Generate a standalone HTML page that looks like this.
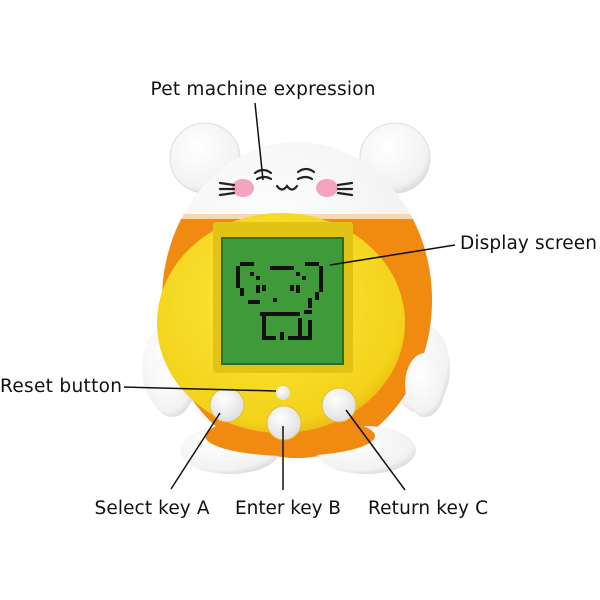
<!DOCTYPE html>
<html><head><style>
body{margin:0;background:#fff;width:600px;height:600px;overflow:hidden}
svg{display:block}
text{font-family:"DejaVu Sans","Liberation Sans",sans-serif;font-size:18.5px;fill:#111}
</style></head><body>
<svg width="600" height="600" viewBox="0 0 600 600">
<defs>
<radialGradient id="w" cx="0.4" cy="0.35" r="0.7"><stop offset="0" stop-color="#fff"/><stop offset="0.8" stop-color="#f2f2f2"/><stop offset="1" stop-color="#d8d8d8"/></radialGradient>
<radialGradient id="y" cx="0.45" cy="0.4" r="0.65"><stop offset="0" stop-color="#fbea3c"/><stop offset="0.85" stop-color="#f3d21a"/><stop offset="1" stop-color="#e8b010"/></radialGradient>
<radialGradient id="b" cx="0.4" cy="0.35" r="0.7"><stop offset="0" stop-color="#fff"/><stop offset="1" stop-color="#ddd"/></radialGradient>
<clipPath id="bodyclip"><ellipse cx="297" cy="300" rx="135" ry="158"/></clipPath>
</defs>
<circle cx="205" cy="158" r="35" fill="url(#w)" stroke="#ddd"/>
<circle cx="395" cy="158" r="35" fill="url(#w)" stroke="#ddd"/>
<ellipse cx="172" cy="368" rx="30" ry="45" fill="url(#w)"/>
<ellipse cx="420" cy="368" rx="30" ry="45" fill="url(#w)"/>
<ellipse cx="297" cy="300" rx="135" ry="158" fill="url(#w)"/>
<g clip-path="url(#bodyclip)">
<rect x="150" y="218" width="300" height="250" fill="#f08a10"/>
<rect x="150" y="214" width="300" height="5" fill="#f6d9b0"/>
</g>
<ellipse cx="230" cy="450" rx="50" ry="24" fill="url(#w)"/>
<ellipse cx="366" cy="450" rx="50" ry="24" fill="url(#w)"/>
<ellipse cx="290" cy="436" rx="85" ry="20" fill="#f08a10"/>
<ellipse cx="172" cy="385" rx="22" ry="32" fill="url(#w)"/>
<ellipse cx="425" cy="385" rx="20" ry="32" fill="url(#w)"/>
<ellipse cx="243" cy="188" rx="11" ry="9" fill="#f5a4c0"/>
<ellipse cx="327" cy="188" rx="11" ry="9" fill="#f5a4c0"/>
<g stroke="#222" stroke-width="2.2" fill="none" stroke-linecap="round">
<path d="M255 173 q8-6 16 0"/><path d="M257 179 q8-4 14 0"/>
<path d="M298 172 q8-6 16 0"/><path d="M298 179 q8-4 14 0"/>
<path d="M277 186 q5 7 10 0 q5 7 10 0"/>
<path d="M220 183 l14 2"/><path d="M220 189 l14 0"/><path d="M220 195 l14 -2"/>
<path d="M338 185 l14 -2"/><path d="M338 189 l14 0"/><path d="M338 193 l14 2"/>
</g>
<ellipse cx="281" cy="323" rx="124" ry="110" fill="url(#y)"/>
<rect x="213" y="222" width="140" height="151" rx="3" fill="#e2c214"/>
<rect x="222" y="238" width="121" height="126" fill="#3f9a3a"/>
<rect x="222" y="238" width="121" height="126" fill="none" stroke="#2a6e28" stroke-width="2"/>
<g fill="#111">
<rect x="240" y="262" width="14" height="4"/><rect x="236" y="266" width="4" height="22"/><rect x="240" y="288" width="4" height="8"/>
<rect x="270" y="266" width="24" height="4"/><rect x="305" y="262" width="14" height="4"/><rect x="319" y="266" width="4" height="26"/>
<rect x="315" y="292" width="4" height="8"/><rect x="250" y="272" width="4" height="4"/><rect x="256" y="276" width="4" height="4"/>
<rect x="296" y="272" width="4" height="4"/><rect x="302" y="276" width="4" height="4"/>
<rect x="256" y="285" width="4" height="8"/><rect x="262" y="285" width="4" height="6"/><rect x="296" y="285" width="4" height="8"/><rect x="290" y="285" width="4" height="6"/>
<rect x="273" y="298" width="4" height="4"/>
<rect x="248" y="300" width="12" height="4"/><rect x="260" y="312" width="40" height="4"/>
<rect x="308" y="298" width="4" height="10"/><rect x="304" y="310" width="8" height="4"/>
<rect x="262" y="316" width="4" height="20"/><rect x="298" y="318" width="4" height="18"/>
<rect x="262" y="336" width="14" height="4"/><rect x="280" y="332" width="4" height="8"/><rect x="288" y="336" width="14" height="4"/>
<rect x="308" y="320" width="4" height="16"/><rect x="302" y="336" width="10" height="4"/>
</g>
<circle cx="227" cy="405" r="17" fill="url(#b)" stroke="#e0c030"/>
<circle cx="284" cy="423" r="17" fill="url(#b)" stroke="#e0c030"/>
<circle cx="339" cy="405" r="17" fill="url(#b)" stroke="#e0c030"/>
<circle cx="283" cy="393" r="7" fill="url(#b)"/>
<g stroke="#111" stroke-width="1.5" fill="none">
<line x1="255" y1="103" x2="263" y2="180"/>
<line x1="455" y1="245" x2="330" y2="265"/>
<line x1="124" y1="387" x2="276" y2="391"/>
<line x1="171" y1="489" x2="220" y2="413"/>
<line x1="283" y1="490" x2="283" y2="426"/>
<line x1="405" y1="490" x2="346" y2="410"/>
</g>
<text x="263" y="95" text-anchor="middle" textLength="225">Pet machine expression</text>
<text x="460" y="249" textLength="137">Display screen</text>
<text x="0" y="392" textLength="122">Reset button</text>
<text x="152" y="514" text-anchor="middle" textLength="115">Select key A</text>
<text x="288" y="514" text-anchor="middle" textLength="106">Enter key B</text>
<text x="428" y="514" text-anchor="middle" textLength="120">Return key C</text>
</svg>
</body></html>
